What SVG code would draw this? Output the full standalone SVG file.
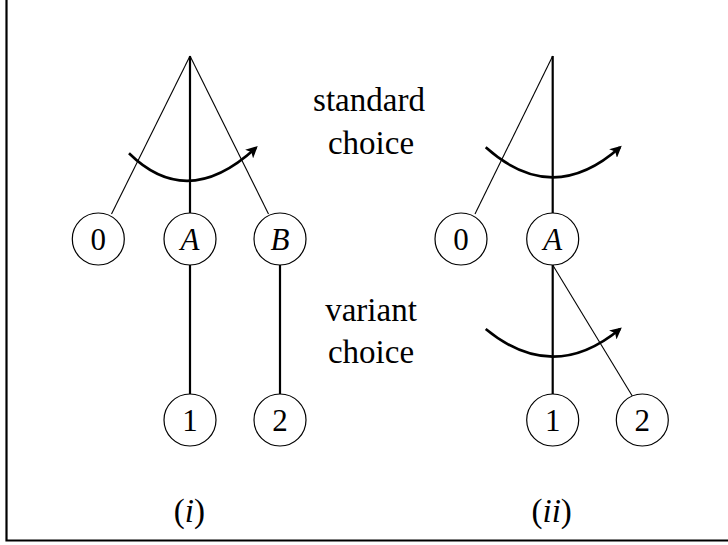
<svg xmlns="http://www.w3.org/2000/svg" width="728" height="545" viewBox="0 0 728 545">
<style>
.node circle{fill:#fff;stroke:#000;stroke-width:1.2}
.lbl{font-family:"Liberation Serif","Times New Roman",serif;font-size:31px;text-anchor:middle;fill:#000}
.it{font-style:italic}
.thin{stroke:#000;stroke-width:1.1;fill:none}
.thick{stroke:#000;stroke-width:2.2;fill:none}
.arc{stroke:#000;stroke-width:2.6;fill:none;marker-end:url(#ah)}
.txt{font-family:"Liberation Serif","Times New Roman",serif;font-size:33px;text-anchor:middle;fill:#000}
</style>
<defs>
<marker id="ah" viewBox="0 0 10 10" refX="8" refY="5" markerWidth="4.5" markerHeight="4.5" orient="auto" markerUnits="strokeWidth">
<path d="M0,0 L10,5 L0,10 L2.5,5 z" fill="#000"/>
</marker>
</defs>
<rect width="728" height="545" fill="#fff"/>
<path d="M6.5,0 V540.5 H728" fill="none" stroke="#000" stroke-width="2.2"/>
<g id="connectors">
<line class="thin" x1="190" y1="56" x2="111.5" y2="214"/>
<line class="thick" x1="190" y1="56" x2="190" y2="213"/>
<line class="thin" x1="190" y1="56" x2="268.5" y2="214"/>
<line class="thick" x1="190" y1="265" x2="190" y2="394"/>
<line class="thick" x1="280" y1="265" x2="280" y2="394"/>
<path class="arc" d="M129,153.3 Q187.5,211 256,147.7"/>
<line class="thin" x1="552.7" y1="56" x2="475" y2="214"/>
<line class="thick" x1="552.7" y1="56" x2="552.7" y2="213"/>
<line class="thick" x1="552.7" y1="265" x2="552.7" y2="394"/>
<line class="thin" x1="552.7" y1="265" x2="632.3" y2="396"/>
<path class="arc" d="M485.7,147.3 Q552.8,207.3 620,147.3"/>
<path class="arc" d="M485.7,329 Q552.8,384.4 620,329"/>
</g>
<g id="n0a" class="node"><circle cx="98.3" cy="239" r="26"/><text class="lbl" x="98.3" y="249.5">0</text></g>
<g id="nAa" class="node"><circle cx="190" cy="239" r="26"/><text class="lbl it" x="190" y="249.5">A</text></g>
<g id="nBa" class="node"><circle cx="280" cy="239" r="26"/><text class="lbl it" x="280" y="249.5">B</text></g>
<g id="n1a" class="node"><circle cx="190" cy="420" r="26"/><text class="lbl" x="190" y="430.5">1</text></g>
<g id="n2a" class="node"><circle cx="280" cy="420" r="26"/><text class="lbl" x="280" y="430.5">2</text></g>
<g id="n0b" class="node"><circle cx="461" cy="239" r="26"/><text class="lbl" x="461" y="249.5">0</text></g>
<g id="nAb" class="node"><circle cx="552.7" cy="239" r="26"/><text class="lbl it" x="552.7" y="249.5">A</text></g>
<g id="n1b" class="node"><circle cx="552.7" cy="420" r="26"/><text class="lbl" x="552.7" y="430.5">1</text></g>
<g id="n2b" class="node"><circle cx="642.3" cy="420" r="26"/><text class="lbl" x="642.3" y="430.5">2</text></g>
<g id="labels">
<text class="txt" x="369" y="110.7">standard</text>
<text class="txt" x="371" y="154">choice</text>
<text class="txt" x="371" y="320.7">variant</text>
<text class="txt" x="371" y="363">choice</text>
<text class="txt" x="189.3" y="521.7">(<tspan font-style="italic">i</tspan>)</text>
<text class="txt" x="551.7" y="521.7">(<tspan font-style="italic">ii</tspan>)</text>
</g>
</svg>
